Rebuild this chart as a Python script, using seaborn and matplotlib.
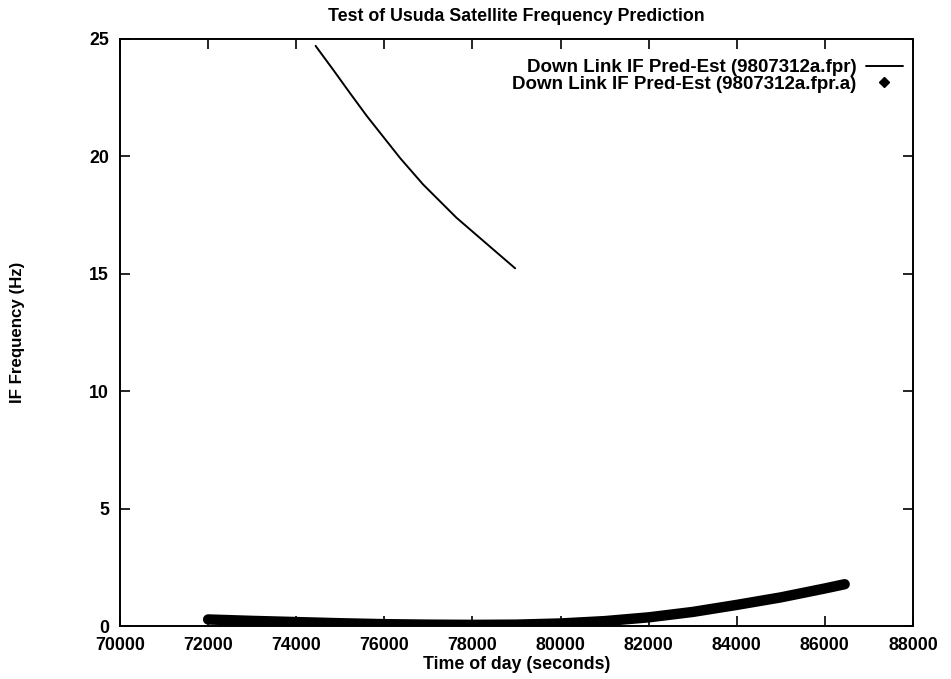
import matplotlib
matplotlib.use("Agg")
import matplotlib.pyplot as plt
import seaborn as sns
import pandas as pd
from matplotlib.lines import Line2D

sns.set_theme(style="ticks")
plt.rcParams['font.family'] = ['Liberation Sans', 'DejaVu Sans']
plt.rcParams['text.color'] = 'black'
plt.rcParams['axes.labelcolor'] = 'black'

# Series 1: line (9807312a.fpr)
fpr_time = [74440, 74840, 75220, 75600, 75980, 76360, 76880, 77640, 78400, 78970]
fpr_freq = [24.70, 23.68, 22.69, 21.72, 20.82, 19.92, 18.80, 17.38, 16.15, 15.23]

# Series 2: points (9807312a.fpr.a)
fpra_time = [72000, 73000, 74000, 75000, 76000, 77000, 78000, 79000, 80000,
             81000, 82000, 83000, 84000, 85000, 86000, 86450]
fpra_freq = [0.28, 0.22, 0.17, 0.12, 0.08, 0.06, 0.05, 0.06, 0.11,
             0.21, 0.37, 0.60, 0.90, 1.22, 1.60, 1.78]

title = "Test of Usuda Satellite Frequency Prediction"
xlabel = "Time of day (seconds)"
ylabel = "IF Frequency (Hz)"
label1 = "Down Link IF Pred-Est (9807312a.fpr)"
label2 = "Down Link IF Pred-Est (9807312a.fpr.a)"
xticks = list(range(70000, 88001, 2000))
yticks = [0, 5, 10, 15, 20, 25]

df1 = pd.DataFrame({"t": fpr_time, "f": fpr_freq})
df2 = pd.DataFrame({"t": fpra_time, "f": fpra_freq})

fig = plt.figure(figsize=(9.51, 6.79), dpi=100)
ax = fig.add_axes([0.1262, 0.078, 0.8338, 0.8648])

sns.lineplot(data=df1, x="t", y="f", ax=ax, color="black", linewidth=1.4,
             legend=False)
sns.lineplot(data=df2, x="t", y="f", ax=ax, color="black", linewidth=7.5,
             legend=False, solid_capstyle="round")

ax.set_xlim(70000, 88000)
ax.set_ylim(0, 25)
ax.set_xticks(xticks)
ax.set_yticks(yticks)
ax.set_xticklabels([str(v) for v in xticks], fontsize=12.8, fontweight="bold",
                   color="black")
ax.set_yticklabels([str(v) for v in yticks], fontsize=12.8, fontweight="bold",
                   color="black")
ax.tick_params(direction="in", length=7, width=1.2, top=True, right=True,
               colors="black")
ax.tick_params(axis="x", pad=8)
ax.tick_params(axis="y", pad=8)
for s in ax.spines.values():
    s.set_visible(True)
    s.set_linewidth(1.4)
    s.set_color("black")

ax.set_xlabel(xlabel, fontsize=12.8, fontweight="bold", labelpad=1, color="black")
ax.set_ylabel(ylabel, fontsize=12.2, fontweight="bold", labelpad=46, color="black")
ax.set_title(title, fontsize=12.8, fontweight="bold", pad=13, color="black")

handles = [Line2D([0], [0], color="black", lw=1.4),
           Line2D([0], [0], color="black", lw=0, marker="D", markersize=5)]
leg = ax.legend(handles, [label1, label2], loc="upper right", frameon=False,
                markerfirst=False, fontsize=13.5, handlelength=2.0,
                handletextpad=0.5, labelspacing=-0.05,
                bbox_to_anchor=(1.009, 0.994))
for t in leg.get_texts():
    t.set_fontweight("bold")
    t.set_ha("right")
    t.set_color("black")
leg._legend_box.align = "right"

fig.savefig("out.png", dpi=100)
